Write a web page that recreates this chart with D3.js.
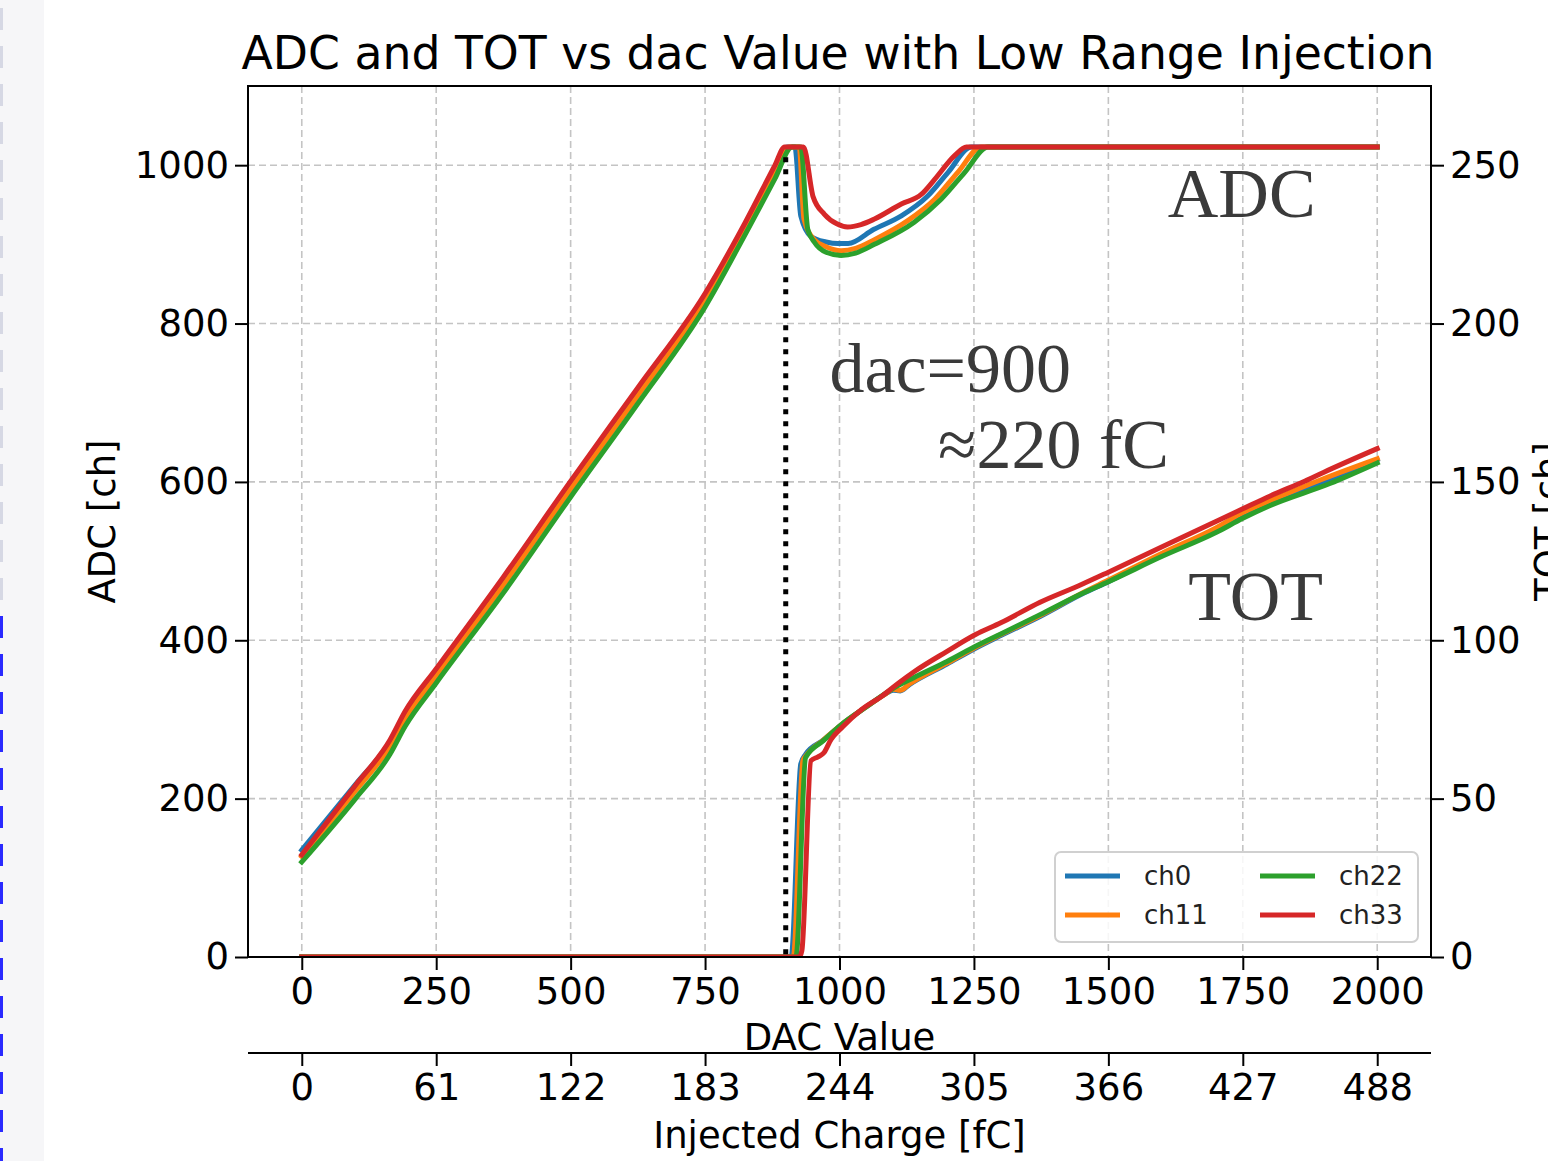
<!DOCTYPE html>
<html>
<head>
<meta charset="utf-8">
<script src="https://cdn.jsdelivr.net/npm/d3@7"></script>
<style>
  html, body { margin: 0; padding: 0; background: #ffffff; }
  svg { display: block; }
</style>
</head>
<body>
<svg id="chart" width="1548" height="1161"></svg>
<script>
// ---- data -------------------------------------------------------------
const channels = ["ch0", "ch11", "ch22", "ch33"];
const channelColors = ["#1f77b4", "#ff7f0e", "#2ca02c", "#d62728"];

// ADC response, [dac, adc]
const adcCh0 = [[0,135],[100,218],[164,272],[192,307],[250,360],[375,475],[500,596],[625,714],[750,834],[825,925],[880,995],[903,1023],[917,1023],[928,936],[947,910],[975,903],[997,901],[1016,901],[1064,919],[1115,936],[1164,961],[1202,991],[1245,1023],[2000,1023]];
const adcCh11 = [[0,127],[100,210],[164,266],[192,300],[250,355],[375,470],[500,591],[625,709],[750,829],[825,920],[880,990],[906,1023],[925,1023],[934,932],[953,906],[975,897],[1003,892],[1030,895],[1065,906],[1127,930],[1177,957],[1220,991],[1264,1023],[2000,1023]];
const adcCh22 = [[0,120],[100,200],[164,256],[192,291],[250,346],[375,460],[500,581],[625,699],[750,821],[825,913],[880,983],[912,1023],[928,1023],[941,919],[953,903],[975,890],[1003,886],[1030,889],[1065,900],[1139,928],[1189,957],[1233,991],[1276,1023],[2000,1023]];
const adcCh33 = [[0,129],[100,217],[164,274],[192,310],[250,364],[375,480],[500,601],[625,719],[750,838],[825,928],[880,1000],[898,1023],[933,1023],[951,960],[972,938],[995,926],[1015,922],[1040,925],[1065,932],[1115,951],[1152,963],[1177,982],[1214,1012],[1236,1023],[2000,1023]];

// TOT response, [dac, tot]
const totCh0 = [[0,0],[910,0],[928,61],[937,64],[970,68.5],[1003,73.3],[1050,79],[1085,83],[1100,84.2],[1113,84],[1130,86],[1200,92.5],[1253,97.5],[1300,101.5],[1373,107.5],[1450,114.5],[1500,118.5],[1600,127],[1700,134.5],[1750,139.3],[1800,143],[1900,150],[2000,157]];
const totCh11 = [[0,0],[914,0],[932,62],[940,64],[970,68.5],[1003,73.3],[1050,79],[1085,83],[1100,84.5],[1113,84.2],[1130,86.2],[1200,92.8],[1253,97.8],[1300,101.8],[1373,107.8],[1450,114.8],[1500,119],[1600,127.5],[1700,135.5],[1750,140.3],[1800,144],[1900,151],[2000,157.3]];
const totCh22 = [[0,0],[919,0],[937,63],[970,68.3],[1003,73.3],[1050,79],[1100,84.8],[1137,88.1],[1200,93.3],[1253,98.1],[1300,102],[1373,108.1],[1450,114.7],[1500,118.5],[1600,126.5],[1700,134],[1750,138.5],[1800,142.5],[1912,149.5],[2000,156]];
const totCh33 = [[0,0],[925,0],[930,2],[947,62],[960,63.2],[971,64.5],[984,68.6],[1006,72.7],[1040,78],[1080,82.5],[1110,86.5],[1140,90.2],[1200,96.5],[1253,101.8],[1300,105.5],[1373,112],[1450,117.6],[1500,121.5],[1600,129.5],[1700,137.5],[1750,141.5],[1800,145.5],[1866,150.3],[1900,153],[2000,160.5]];

const adcSeries = [adcCh0, adcCh11, adcCh22, adcCh33];
const totSeries = [totCh0, totCh11, totCh22, totCh33];

// axis ticks
const dacTicks = [0, 250, 500, 750, 1000, 1250, 1500, 1750, 2000];
const adcTicks = [0, 200, 400, 600, 800, 1000];
const totTicks = [0, 50, 100, 150, 200, 250];
const chargeTicks = [0, 61, 122, 183, 244, 305, 366, 427, 488];
const fcPerDac = 0.244;

// marker for the range boundary
const thresholdDac = 900;
const thresholdAdcTop = 1010;

// ---- layout -------------------------------------------------------------
const plot = { left: 248, right: 1431, top: 86, bottom: 957 };
const lineW = 5;
const tickLen = 13;
const tickFont = 37;
const sans = "'DejaVu Sans', sans-serif";
const serif = "'Liberation Serif', 'DejaVu Serif', serif";

const svg = d3.select("#chart");

// ---- left page strip ----------------------------------------------------
const strip = svg.append("g");
strip.append("rect").attr("x", 0).attr("y", 0).attr("width", 44).attr("height", 1161).attr("fill", "#f6f6f8");
d3.range(0, 1161, 38).forEach((y, i) => {
  strip.append("rect")
    .attr("x", 0).attr("y", y + 8).attr("width", 3).attr("height", 22)
    .attr("fill", y > 600 ? "#2a2aff" : "#d6d8e4");
});

// ---- scales -------------------------------------------------------------
const x = d3.scaleLinear().domain([-100, 2100]).range([plot.left, plot.right]);
const yAdc = d3.scaleLinear().domain([0, 1100]).range([plot.bottom, plot.top]);
const yTot = d3.scaleLinear().domain([0, 275]).range([plot.bottom, plot.top]);
const xCharge = d3.scaleLinear().domain([-100 * fcPerDac, 2100 * fcPerDac]).range([plot.left, plot.right]);

// ---- grid ---------------------------------------------------------------
const grid = svg.append("g").attr("stroke", "#c4c4c4").attr("stroke-width", 1.6).attr("stroke-dasharray", "7,4");
dacTicks.forEach(t => grid.append("line").attr("x1", x(t)).attr("x2", x(t)).attr("y1", plot.top).attr("y2", plot.bottom));
adcTicks.forEach(t => grid.append("line").attr("x1", plot.left).attr("x2", plot.right).attr("y1", yAdc(t)).attr("y2", yAdc(t)));

// ---- curves -------------------------------------------------------------
svg.append("clipPath").attr("id", "plotClip").append("rect")
  .attr("x", plot.left).attr("y", plot.top).attr("width", plot.right - plot.left).attr("height", plot.bottom - plot.top);

const lines = svg.append("g").attr("clip-path", "url(#plotClip)");
const adcLine = d3.line().curve(d3.curveMonotoneX).x(d => x(d[0])).y(d => yAdc(d[1]));
const totLine = d3.line().curve(d3.curveMonotoneX).x(d => x(d[0])).y(d => yTot(d[1]));

adcSeries.forEach((s, i) => {
  lines.append("path").attr("d", adcLine(s)).attr("fill", "none")
    .attr("stroke", channelColors[i]).attr("stroke-width", lineW)
    .attr("stroke-linejoin", "round").attr("stroke-linecap", "square");
});
totSeries.forEach((s, i) => {
  lines.append("path").attr("d", totLine(s)).attr("fill", "none")
    .attr("stroke", channelColors[i]).attr("stroke-width", lineW)
    .attr("stroke-linejoin", "round").attr("stroke-linecap", "square");
});

// ---- axes ---------------------------------------------------------------
function styleAxis(g) {
  g.select(".domain").remove();
  g.selectAll(".tick line").attr("stroke", "#000").attr("stroke-width", 2);
  g.selectAll(".tick text").attr("fill", "#000").attr("font-family", sans).attr("font-size", tickFont);
}

svg.append("g").attr("transform", `translate(0,${plot.bottom})`)
  .call(d3.axisBottom(x).tickValues(dacTicks).tickFormat(d3.format("d")).tickSize(tickLen).tickPadding(8))
  .call(styleAxis);

svg.append("g").attr("transform", `translate(${plot.left},0)`)
  .call(d3.axisLeft(yAdc).tickValues(adcTicks).tickFormat(d3.format("d")).tickSize(tickLen).tickPadding(6))
  .call(styleAxis);

svg.append("g").attr("transform", `translate(${plot.right},0)`)
  .call(d3.axisRight(yTot).tickValues(totTicks).tickFormat(d3.format("d")).tickSize(tickLen).tickPadding(6))
  .call(styleAxis);

// secondary charge axis
const chargeAxisY = 1053;
svg.append("g").attr("transform", `translate(0,${chargeAxisY})`)
  .call(d3.axisBottom(xCharge).tickValues(chargeTicks).tickFormat(d3.format("d")).tickSize(tickLen).tickPadding(8))
  .call(styleAxis);
svg.append("line").attr("x1", plot.left).attr("x2", plot.right).attr("y1", chargeAxisY).attr("y2", chargeAxisY)
  .attr("stroke", "#000").attr("stroke-width", 2);

// frame
svg.append("rect").attr("x", plot.left).attr("y", plot.top)
  .attr("width", plot.right - plot.left).attr("height", plot.bottom - plot.top)
  .attr("fill", "none").attr("stroke", "#000").attr("stroke-width", 2);

// ---- threshold marker ---------------------------------------------------
svg.append("line")
  .attr("x1", x(thresholdDac)).attr("x2", x(thresholdDac))
  .attr("y1", yAdc(thresholdAdcTop)).attr("y2", yAdc(0))
  .attr("stroke", "#000").attr("stroke-width", 5).attr("stroke-dasharray", "5,7");

// ---- labels -------------------------------------------------------------
svg.append("text").attr("x", 838).attr("y", 69)
  .attr("text-anchor", "middle").attr("font-family", sans).attr("font-size", 45.7).attr("fill", "#000")
  .text("ADC and TOT vs dac Value with Low Range Injection");

svg.append("text").attr("x", (plot.left + plot.right) / 2).attr("y", 1050)
  .attr("text-anchor", "middle").attr("font-family", sans).attr("font-size", tickFont).attr("fill", "#000")
  .text("DAC Value");

svg.append("text").attr("x", (plot.left + plot.right) / 2).attr("y", 1148)
  .attr("text-anchor", "middle").attr("font-family", sans).attr("font-size", tickFont).attr("fill", "#000")
  .text("Injected Charge [fC]");

svg.append("text").attr("transform", `translate(115,${(plot.top + plot.bottom) / 2}) rotate(-90)`)
  .attr("text-anchor", "middle").attr("font-family", sans).attr("font-size", tickFont).attr("fill", "#000")
  .text("ADC [ch]");

svg.append("text").attr("transform", `translate(1561,${(plot.top + plot.bottom) / 2}) rotate(-90)`)
  .attr("text-anchor", "middle").attr("font-family", sans).attr("font-size", tickFont).attr("fill", "#000")
  .text("TOT [ch]");

// annotations, positioned in data coordinates
const noteColor = "#3a3a3a";
const notes = [
  { text: "ADC", dac: 1748, adc: 934 },
  { text: "TOT", dac: 1774, adc: 425 },
  { text: "dac=900", dac: 1206, adc: 714 },
  { text: "≈220 fC", dac: 1398, adc: 618 }
];
notes.forEach(n => {
  svg.append("text").attr("x", x(n.dac)).attr("y", yAdc(n.adc))
    .attr("text-anchor", "middle").attr("font-family", serif).attr("font-size", 70).attr("fill", noteColor)
    .text(n.text);
});

// ---- legend -------------------------------------------------------------
const legend = svg.append("g");
legend.append("rect").attr("x", 1055).attr("y", 852).attr("width", 363).attr("height", 90)
  .attr("rx", 6).attr("fill", "#ffffff").attr("fill-opacity", 0.85)
  .attr("stroke", "#d0d0d0").attr("stroke-width", 2);
const legendCols = [1065, 1260];
const legendRows = [876, 915];
channels.forEach((c, i) => {
  const col = Math.floor(i / 2), row = i % 2;
  const lx = legendCols[col], ly = legendRows[row];
  legend.append("line").attr("x1", lx).attr("x2", lx + 55).attr("y1", ly).attr("y2", ly)
    .attr("stroke", channelColors[i]).attr("stroke-width", lineW);
  legend.append("text").attr("x", lx + 79).attr("y", ly + 9)
    .attr("font-family", sans).attr("font-size", 26).attr("fill", "#222").text(c);
});
</script>
</body>
</html>
